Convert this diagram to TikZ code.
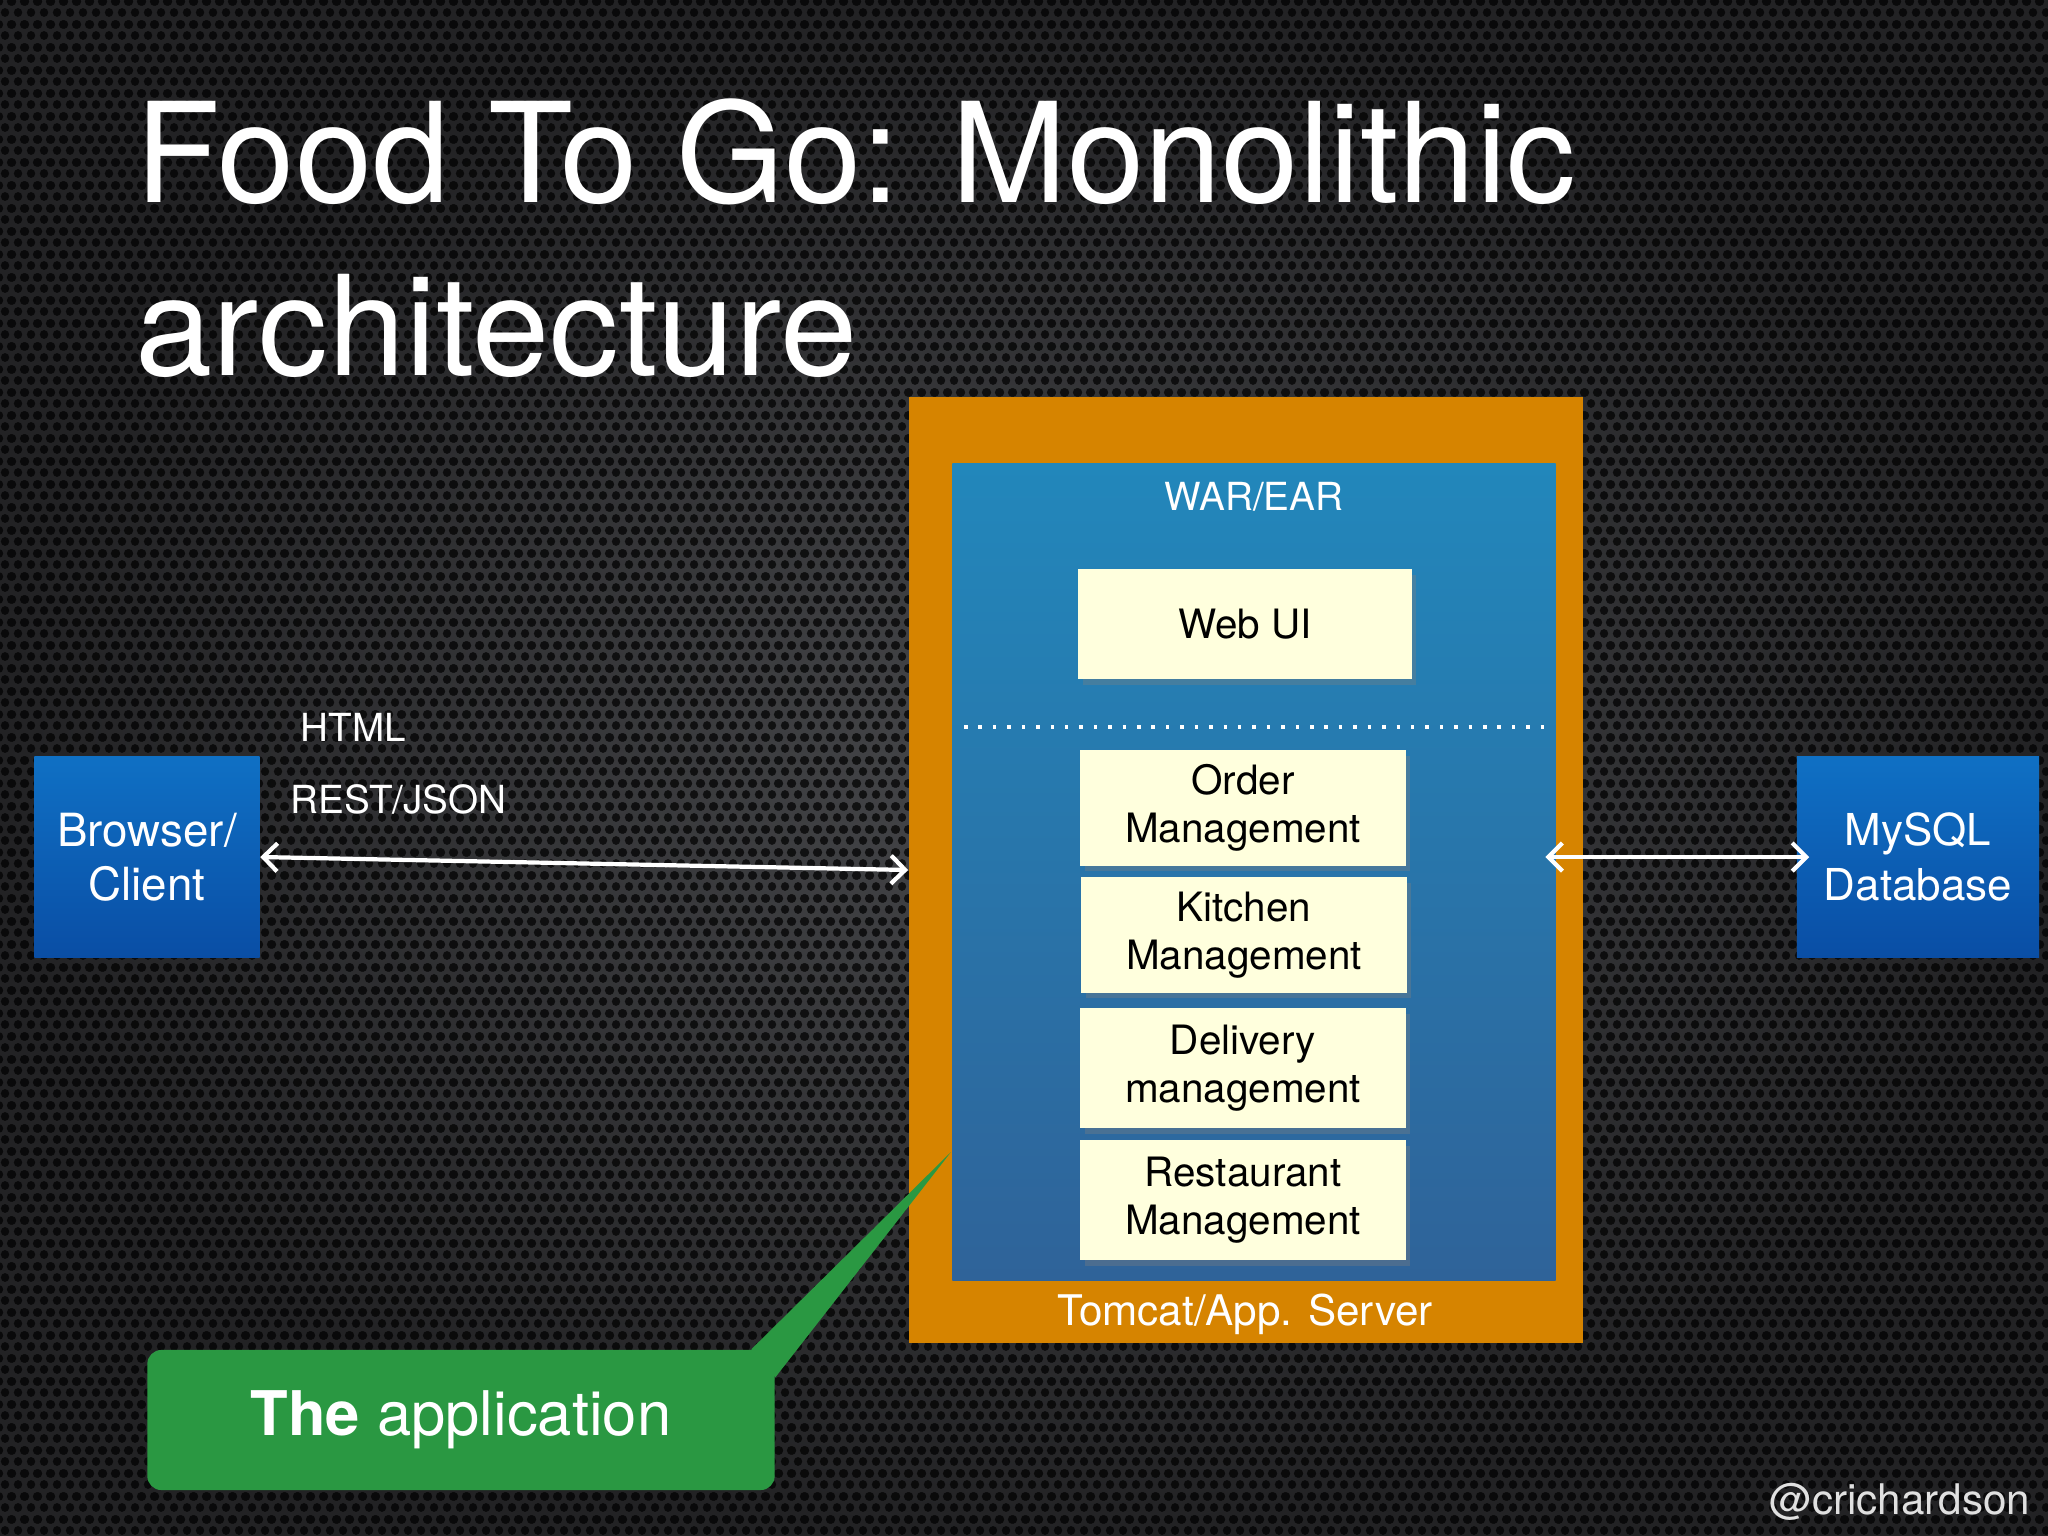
\documentclass[tikz,border=0pt]{standalone}
\usepackage{fontspec}
\setmainfont{TeX Gyre Heros}
\usepackage{tikz}
\usetikzlibrary{arrows.meta, positioning, shadows, patterns.meta}
\usepackage{xcolor}
\definecolor{bgin}{RGB}{70,71,74}
\definecolor{bgout}{RGB}{34,34,36}
\definecolor{tomcat}{RGB}{214,132,0}
\definecolor{wartop}{RGB}{34,135,187}
\definecolor{warbot}{RGB}{47,99,153}
\definecolor{cream}{RGB}{255,255,221}
\definecolor{boxtop}{RGB}{15,112,196}
\definecolor{boxbot}{RGB}{10,78,165}
\definecolor{note}{RGB}{42,152,66}

% perforated background
\tikzdeclarepattern{
    name=mesh,
    type=uncolored,
    bounding box={(0cm,0cm) and (0.13cm,0.225cm)},
    tile size={(0.13cm,0.225cm)},
    code={
        \fill (0.065cm,0.05625cm) circle (0.045cm);
        \fill (0cm,0.16875cm) circle (0.045cm);
        \fill (0.13cm,0.16875cm) circle (0.045cm);
    }
}

\begin{document}
\begin{tikzpicture}[x=0.01cm, y=-0.01cm,
    module/.style={fill=cream, minimum width=3.25cm, minimum height=1.15cm, align=center,
        font=\fontsize{11.5}{13.5}\selectfont,
        drop shadow={shadow xshift=1.2pt, shadow yshift=-1.6pt, opacity=0.35}},
    endpoint/.style={top color=boxtop, bottom color=boxbot, minimum height=2.01cm,
        align=center, text=white, font=\fontsize{13}{15.5}\selectfont},
    wlabel/.style={text=white, inner sep=0pt, font=\fontsize{11}{13}\selectfont},
    link/.style={white, line width=1.2pt,
        {Straight Barb[length=4pt,width=8pt]}-{Straight Barb[length=4pt,width=8pt]}}]
    % background
    \useasboundingbox (0,0) rectangle (2048,1536);
    \shade[inner color=bgin, outer color=bgout] (0,0) rectangle (2048,1536);
    \fill[pattern=mesh, pattern color=black, opacity=0.72] (0,0) rectangle (2048,1536);

    % title
    \node[anchor=base west, text=white, inner sep=0pt, font=\fontsize{39.5}{48}\selectfont] (title1) at (135,202) {Food To Go: Monolithic};
    \node[anchor=base west, text=white, inner sep=0pt, font=\fontsize{39.5}{48}\selectfont] (title2) at (135,375) {architecture};

    % app server
    \node[fill=tomcat, minimum width=6.74cm, minimum height=9.46cm] (app) at (1246,870) {};
    \node[top color=wartop, bottom color=warbot, minimum width=6.03cm, minimum height=8.16cm] (war) at (1254,872) {};
    \node[wlabel, font=\fontsize{11}{13}\selectfont] (warlabel) at (1254,497) {WAR/EAR};
    \node[wlabel, font=\fontsize{12}{14}\selectfont] (tomcatlabel) at (1245,1314) {Tomcat/App. Server};

    % modules
    \node[module, minimum width=3.33cm, minimum height=1.10cm] (webui) at (1245,624) {Web UI};
    \draw[white, line width=1pt, dash pattern=on 1pt off 3.1pt] (964,727) -- (1548,727);
    \node[module] (order) at (1243,808) {Order\\Management};
    \node[module] (kitchen) at (1244,935) {Kitchen\\Management};
    \node[module, minimum height=1.2cm] (delivery) at (1243,1068) {Delivery\\management};
    \node[module, minimum height=1.2cm] (restaurant) at (1243,1200) {Restaurant\\Management};

    % client and database
    \node[endpoint, minimum width=2.25cm] (browser) at (147,857) {Browser/\\Client};
    \node[endpoint, minimum width=2.42cm, font=\fontsize{12.5}{15.5}\selectfont] (mysql) at (1918,857) {MySQL\\Database};
    \node[wlabel, anchor=base west] (html) at (300,741) {HTML};
    \node[wlabel, anchor=base west] (rest) at (290,813) {REST/JSON};
    \draw[link] (browser.east) -- (app.west);
    \draw[link] ([xshift=-0.11cm]war.east |- mysql.west) -- ([xshift=0.13cm]mysql.west);

    % callout
    \node[fill=note, rounded corners=4pt, minimum width=6.27cm, minimum height=1.40cm, text=white,
        font=\fontsize{17.5}{21}\selectfont] (appnote) at (461,1420) {\textbf{The} application};
    \coordinate (notetip) at (951,1152);
    \fill[note] ([xshift=-0.24cm]appnote.north east) -- (notetip) -- ([yshift=-0.28cm]appnote.north east) -- cycle;

    \node[anchor=base east, text=white!88!black, inner sep=0pt, font=\fontsize{12}{14}\selectfont] (handle) at (2031,1514) {@crichardson};
\end{tikzpicture}
\end{document}
